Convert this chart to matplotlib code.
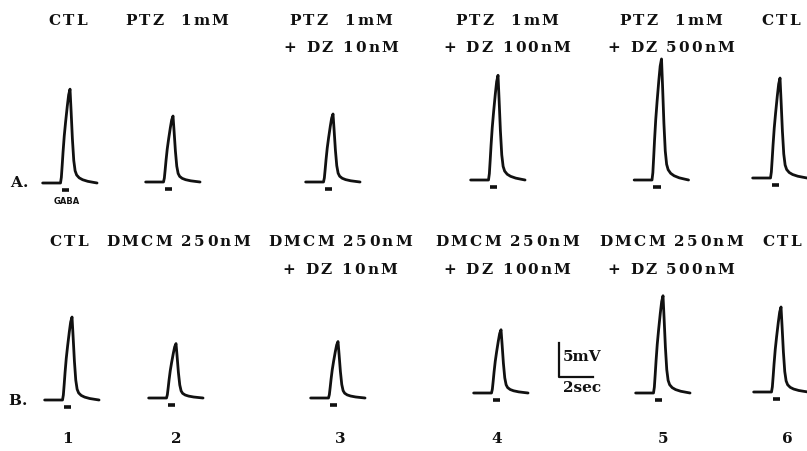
import numpy as np
import matplotlib
matplotlib.use("Agg")
import matplotlib.pyplot as plt

# ---------------- data ----------------
labels_A = [["CTL"], ["PTZ  1mM"], ["PTZ  1mM", "+ DZ 10nM"],
            ["PTZ  1mM", "+ DZ 100nM"], ["PTZ  1mM", "+ DZ 500nM"], ["CTL"]]
labels_B = [["CTL"], ["DMCM 250nM"], ["DMCM 250nM", "+ DZ 10nM"],
            ["DMCM 250nM", "+ DZ 100nM"], ["DMCM 250nM", "+ DZ 500nM"], ["CTL"]]
peak_mV_A = [13.8, 9.7, 10.0, 15.4, 17.8, 14.7]   # response amplitude, row A
peak_mV_B = [12.2, 8.0, 8.3, 9.3, 14.3, 12.5]     # response amplitude, row B
trace_numbers = ["1", "2", "3", "4", "5", "6"]
# normalised response shape (time s from GABA onset)
shape_t = [-1.05, -0.6, -0.2, 0.0, 0.05, 0.10, 0.15, 0.22, 0.30, 0.40, 0.48, 0.56,
           0.62, 0.70, 0.78, 0.86, 0.95, 1.1, 1.3, 1.6, 1.9, 2.15]
shape_v = [0.0, 0.0, 0.0, 0.0, 0.06, 0.19, 0.33, 0.50, 0.65, 0.82, 0.94, 1.0,
           0.78, 0.47, 0.24, 0.13, 0.085, 0.055, 0.035, 0.018, 0.008, 0.0]
gaba_t = [0.06, 0.50]          # GABA application (s)
scale_mV, scale_s = 5, 2        # calibration bar

# ---------------- layout (pixels) ----------------
W, H = 807, 451
PX_S, PX_MV = 17.0, 6.8
onset_x_A = [60.5, 163.5, 323.5, 488.5, 652, 770.5]
base_y_A = [183, 182, 182, 180, 180, 178]
onset_x_B = [62.5, 166.5, 328.5, 491.5, 653.5, 771.5]
base_y_B = [400, 398, 398, 393, 393, 392]
label_x_A = [68, 177, 341, 507, 671, 781]
label_x_B = [69, 178, 340, 507, 671, 782]
num_x = [68, 176, 340, 497, 663, 787]
INK = "#111111"
FONT = "DejaVu Serif"
FS = 11.0
TRACK = 2.2

fig = plt.figure(figsize=(W / 100, H / 100), dpi=100)
fig.patch.set_facecolor("white")
renderer = fig.canvas.get_renderer()

T0, T1, V0, V1 = -1.5, 2.7, -2.5, 20.0


def trace_axes(ox, by):
    left = ox + T0 * PX_S
    bottom = by - V0 * PX_MV
    w = (T1 - T0) * PX_S
    h = (V1 - V0) * PX_MV
    ax = fig.add_axes([left / W, 1 - bottom / H, w / W, h / H])
    ax.set_xlim(T0, T1)
    ax.set_ylim(V0, V1)
    ax.axis("off")
    ax.patch.set_visible(False)
    return ax


def char_w(ch, size, weight):
    t1 = fig.text(0, 0, "x" + ch + "x", fontsize=size, family=FONT, weight=weight)
    t2 = fig.text(0, 0, "xx", fontsize=size, family=FONT, weight=weight)
    w = t1.get_window_extent(renderer).width - t2.get_window_extent(renderer).width
    t1.remove(); t2.remove()
    return w


def spaced_text(xc, yb, s, size=FS, track=TRACK, weight="bold"):
    ws = [char_w(c, size, weight) for c in s]
    total = sum(ws) + track * (len(s) - 1)
    x = xc - total / 2
    for c, w in zip(s, ws):
        if c != " ":
            fig.text(x / W, 1 - yb / H, c, fontsize=size, family=FONT,
                     weight=weight, ha="left", va="baseline", color=INK)
        x += w + track


shape_v_arr = np.array(shape_v)
for row_amps, onsets, bases in ((peak_mV_A, onset_x_A, base_y_A),
                                (peak_mV_B, onset_x_B, base_y_B)):
    for amp, ox, by in zip(row_amps, onsets, bases):
        ax = trace_axes(ox, by)
        ax.plot(shape_t, amp * shape_v_arr, color=INK, lw=2.0,
                solid_joinstyle="round", solid_capstyle="round")
        ax.plot(gaba_t, [-1.1, -1.1], color=INK, lw=2.6, solid_capstyle="butt")

# condition labels
for labs, xs, y1, y2 in ((labels_A, label_x_A, 25, 52), (labels_B, label_x_B, 246, 274)):
    for lab, xc in zip(labs, xs):
        spaced_text(xc, y1, lab[0])
        if len(lab) > 1:
            spaced_text(xc, y2, lab[1])

# trace numbers
for n, xc in zip(trace_numbers, num_x):
    spaced_text(xc, 443, n)

# row letters
spaced_text(19, 187, "A.", track=0.5)
spaced_text(18, 405, "B.", track=0.5)

# GABA marker
fig.text(67 / W, 1 - 202 / H, "GABA", fontsize=6, family="DejaVu Sans",
         weight="heavy", ha="center", va="center", color=INK)

# calibration bar
sax = trace_axes(559, 377)
sax.plot([0, 0, scale_s], [scale_mV, 0, 0], color=INK, lw=1.6)
sax.text(0.24, 2.9, f"{scale_mV}mV", fontsize=FS, family=FONT, weight="bold",
         ha="left", va="center", color=INK)
sax.text(0.24, -1.6, f"{scale_s}sec", fontsize=FS, family=FONT, weight="bold",
         ha="left", va="center", color=INK)

fig.savefig("out.png", dpi=100, facecolor="white")
